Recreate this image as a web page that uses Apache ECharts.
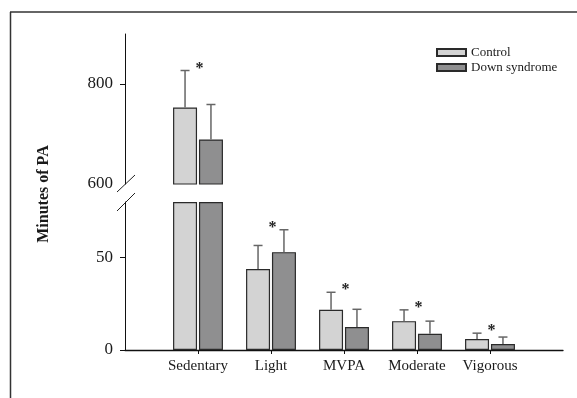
<!DOCTYPE html>
<html>
<head>
<meta charset="utf-8">
<script src="https://cdn.jsdelivr.net/npm/echarts@6/dist/echarts.min.js"></script>
<style>html,body{margin:0;padding:0;background:#fff}#c{width:577px;height:398px}</style>
</head>
<body>
<div id="c"></div>
<script>
var categories = ['Sedentary', 'Light', 'MVPA', 'Moderate', 'Vigorous'];
var controlMean = [753, 43.8, 21.7, 15.6, 5.9];
var controlSD = [74, 12.7, 9.5, 6.1, 3.2];
var downMean = [689, 52.9, 12.4, 8.8, 3.2];
var downSD = [70, 12.1, 9.6, 6.8, 3.8];
var significant = [true, true, true, true, true];
var upperTicks = [600, 800];
var lowerTicks = [0, 50];
var upperRange = [600, 900];
var lowerRange = [0, 80];
var seriesNames = ['Control', 'Down syndrome'];

var FONT = '"Liberation Serif", "Times New Roman", serif';
var axisCats = [''].concat(categories).concat(['']);

function upperData(arr) { return ['-'].concat(arr.map(function (v) { return v >= upperRange[0] ? v : '-'; })).concat(['-']); }
function lowerData(arr) { return ['-'].concat(arr.map(function (v) { return Math.min(v, lowerRange[1]); })).concat(['-']); }

function errData(inUpper) {
  var out = [];
  categories.forEach(function (c, i) {
    [[controlMean, controlSD, -1], [downMean, downSD, 1]].forEach(function (s) {
      var m = s[0][i];
      var up = m >= upperRange[0];
      if (up === inUpper) out.push([i + 1, m, s[1][i], s[2]]);
    });
  });
  return out;
}
function starData(inUpper) {
  var out = [];
  categories.forEach(function (c, i) {
    if (!significant[i]) return;
    var top = Math.max(controlMean[i] + controlSD[i], downMean[i] + downSD[i]);
    var up = top >= upperRange[0];
    if (up === inUpper) out.push([i + 1, top]);
  });
  return out;
}

var errRender = function (params, api) {
  var x = api.value(0), m = api.value(1), s = api.value(2), side = api.value(3);
  var p0 = api.coord([x, m]);
  var p1 = api.coord([x, m + s]);
  var cx = p0[0] + side * 12.96;
  var st = { stroke: '#666', lineWidth: 1.5 };
  return {
    type: 'group',
    children: [
      { type: 'line', shape: { x1: cx, y1: p0[1], x2: cx, y2: p1[1] }, style: st },
      { type: 'line', shape: { x1: cx - 4.5, y1: p1[1], x2: cx + 4.5, y2: p1[1] }, style: st }
    ]
  };
};
var starRender = function (params, api) {
  var p = api.coord([api.value(0), api.value(1)]);
  return {
    type: 'text',
    x: p[0] + 1.5,
    y: p[1] - 2,
    style: { text: '*', font: 'bold 16px ' + FONT, fill: '#222', align: 'center', verticalAlign: 'middle' }
  };
};

var barCommon = { type: 'bar', barWidth: 24, barGap: '8%', animation: false };
var ctrlStyle = { color: '#d3d3d3', borderColor: '#2a2a2a', borderWidth: 1.2 };
var downStyle = { color: '#8f8f90', borderColor: '#2a2a2a', borderWidth: 1.2 };

var chart = echarts.init(document.getElementById('c'), null, { renderer: 'canvas' });
chart.setOption({
  animation: false,
  backgroundColor: '#fff',
  textStyle: { fontFamily: FONT },
  legend: {
    orient: 'vertical', left: 431, top: 41,
    itemWidth: 29, itemHeight: 7, itemGap: 2,
    icon: 'rect',
    textStyle: { fontFamily: FONT, fontSize: 13, color: '#1a1a1a' },
    data: seriesNames
  },
  grid: [
    { left: 125, right: 14, top: 34, height: 150 },
    { left: 125, right: 14, top: 202, height: 148 }
  ],
  xAxis: [
    { gridIndex: 0, type: 'category', data: axisCats, boundaryGap: false,
      axisLine: { show: false }, axisTick: { show: false }, axisLabel: { show: false }, splitLine: { show: false } },
    { gridIndex: 1, type: 'category', data: axisCats, boundaryGap: false,
      axisLine: { lineStyle: { color: '#111', width: 1.3 } },
      axisTick: { length: 4, interval: function (i) { return i > 0 && i < axisCats.length - 1; }, lineStyle: { color: '#111' } },
      axisLabel: { interval: 0, fontSize: 15, color: '#1a1a1a', fontFamily: FONT, margin: 9 },
      splitLine: { show: false } }
  ],
  yAxis: [
    { gridIndex: 0, type: 'value', min: upperRange[0], max: upperRange[1], interval: 200,
      axisLine: { show: true, lineStyle: { color: '#111', width: 1 } },
      axisTick: { show: true, length: 5, customValues: [800], lineStyle: { color: '#111' } },
      axisLabel: { customValues: upperTicks, fontSize: 17, color: '#1a1a1a', fontFamily: FONT, margin: 12 },
      splitLine: { show: false } },
    { gridIndex: 1, type: 'value', min: lowerRange[0], max: lowerRange[1], interval: 50,
      axisLine: { show: true, lineStyle: { color: '#111', width: 1 } },
      axisTick: { show: true, length: 5, customValues: lowerTicks, lineStyle: { color: '#111' } },
      axisLabel: { customValues: lowerTicks, fontSize: 17, color: '#1a1a1a', fontFamily: FONT, margin: 12 },
      splitLine: { show: false } }
  ],
  series: [
    Object.assign({}, barCommon, { name: seriesNames[0], xAxisIndex: 0, yAxisIndex: 0, data: upperData(controlMean), itemStyle: ctrlStyle }),
    Object.assign({}, barCommon, { name: seriesNames[1], xAxisIndex: 0, yAxisIndex: 0, data: upperData(downMean), itemStyle: downStyle }),
    Object.assign({}, barCommon, { name: seriesNames[0], xAxisIndex: 1, yAxisIndex: 1, data: lowerData(controlMean), itemStyle: ctrlStyle }),
    Object.assign({}, barCommon, { name: seriesNames[1], xAxisIndex: 1, yAxisIndex: 1, data: lowerData(downMean), itemStyle: downStyle }),
    { type: 'custom', xAxisIndex: 0, yAxisIndex: 0, renderItem: errRender, data: errData(true), z: 3, silent: true },
    { type: 'custom', xAxisIndex: 1, yAxisIndex: 1, renderItem: errRender, data: errData(false), z: 3, silent: true },
    { type: 'custom', xAxisIndex: 0, yAxisIndex: 0, renderItem: starRender, data: starData(true), z: 4, silent: true, clip: false },
    { type: 'custom', xAxisIndex: 1, yAxisIndex: 1, renderItem: starRender, data: starData(false), z: 4, silent: true, clip: false }
  ],
  graphic: [
    { type: 'line', shape: { x1: 10, y1: 12, x2: 577, y2: 12 }, style: { stroke: '#333', lineWidth: 1.5 } },
    { type: 'line', shape: { x1: 10.5, y1: 12, x2: 10.5, y2: 398 }, style: { stroke: '#333', lineWidth: 1.5 } },
    { type: 'line', shape: { x1: 117, y1: 192, x2: 135, y2: 175 }, style: { stroke: '#222', lineWidth: 1 } },
    { type: 'line', shape: { x1: 117, y1: 211, x2: 135, y2: 193 }, style: { stroke: '#222', lineWidth: 1 } },
    { type: 'text', x: 44, y: 194, rotation: Math.PI / 2,
      style: { text: 'Minutes of PA', font: 'bold 16px ' + FONT, fill: '#1a1a1a', align: 'center', verticalAlign: 'middle' } }
  ]
});
</script>
</body>
</html>
